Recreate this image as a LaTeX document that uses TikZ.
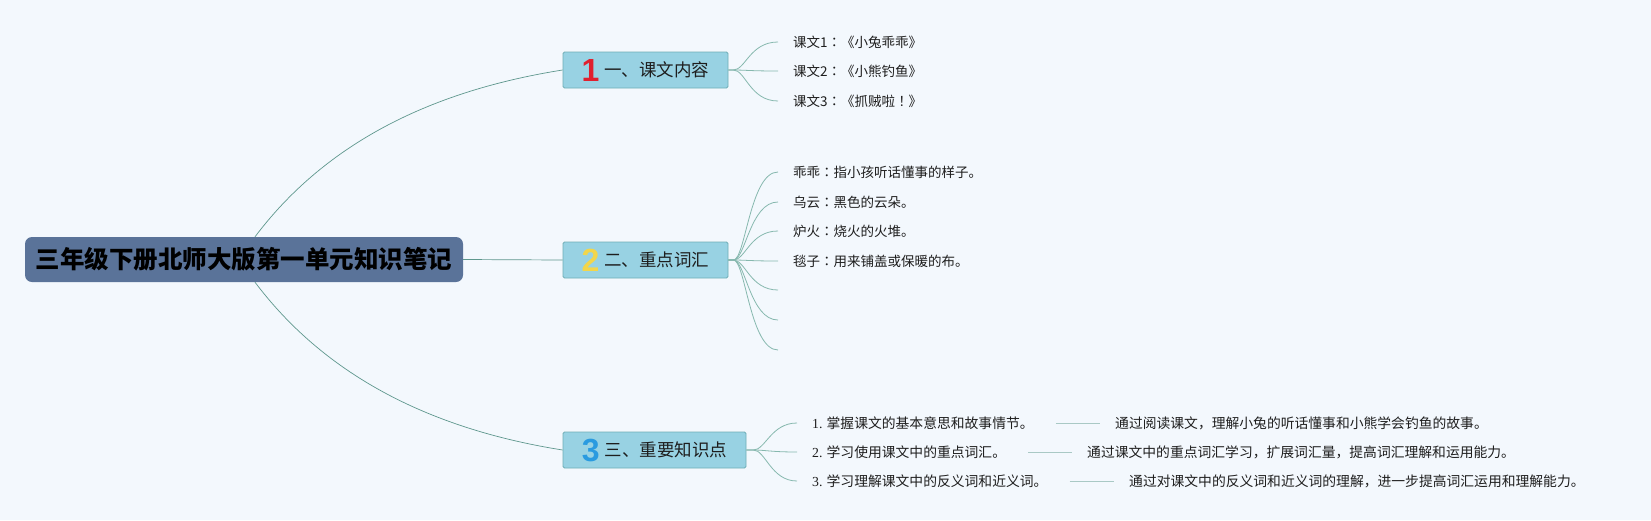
\documentclass[tikz,border=0pt]{standalone}
\usepackage{fontspec}
\setmainfont{Noto Sans CJK SC}
\newfontfamily\numfont{Liberation Sans}
\newfontfamily\sernum{Liberation Serif}
\newfontfamily\jpfont{Noto Sans CJK JP}
\newcommand{\zc}{{\jpfont ：}}
\usetikzlibrary{calc}
\definecolor{bg}{HTML}{F3F8FD}
\definecolor{rootfill}{HTML}{5A7399}
\definecolor{topicfill}{HTML}{98D2E3}
\definecolor{topicdraw}{HTML}{6FAEB6}
\definecolor{mainline}{HTML}{5E978D}
\definecolor{kidline}{HTML}{86B8AE}
\definecolor{detline}{HTML}{A9C9C5}
\definecolor{txt}{HTML}{1E1E1E}
\definecolor{numred}{HTML}{E0202E}
\definecolor{numyellow}{HTML}{F2D64B}
\definecolor{numblue}{HTML}{2A9BE0}
\newcommand{\bignum}[2]{\raisebox{-4.5pt}{\numfont\bfseries\fontsize{32pt}{32pt}\selectfont\textcolor{#1}{#2}}}
\begin{document}
\begin{tikzpicture}[x=1pt,y=-1pt,
  rootbox/.style={fill=rootfill, rounded corners=7pt, minimum width=438pt, minimum height=45pt, inner sep=0pt,
     font=\fontsize{24.5pt}{30pt}\selectfont\bfseries, text=black},
  topic/.style={fill=topicfill, draw=topicdraw, line width=0.8pt, rounded corners=1.5pt, minimum height=36pt, inner sep=0pt,
     font=\fontsize{17.5pt}{20pt}\selectfont, text=txt},
  kid/.style={anchor=west, inner xsep=15pt, inner ysep=2pt, font=\fontsize{13.5pt}{16pt}\selectfont, text=txt},
  item/.style={anchor=west, inner xsep=15pt, inner ysep=2pt, font=\fontsize{13.8pt}{16pt}\selectfont, text=txt},
  detail/.style={anchor=west, inner xsep=15pt, inner ysep=2pt, font=\fontsize{13.8pt}{16pt}\selectfont, text=txt},
  mainconn/.style={draw=mainline, line width=0.7pt},
  kidconn/.style={draw=kidline, line width=0.8pt},
  detconn/.style={draw=detline, line width=1pt, shorten <=7pt}
]
\path[use as bounding box, fill=bg] (0,0) rectangle (1651,520);

\node[rootbox] (root) at (244,259.5) {三年级下册北师大版第一单元知识笔记};

\node[topic, minimum width=165pt] (t1) at (645.5,70) {\bignum{numred}{1}\hspace{5pt}一、课文内容};
\node[topic, minimum width=165pt] (t2) at (645.5,260) {\bignum{numyellow}{2}\hspace{5pt}二、重点词汇};
\node[topic, minimum width=183pt] (t3) at (654.5,450) {\bignum{numblue}{3}\hspace{5pt}三、重要知识点};

\draw[mainconn] ($(root.north)+(11,0)$) .. controls +(67,-89) and +(-139,22) .. (t1.west);
\draw[mainconn] (root.east) -- (t2.west);
\draw[mainconn] ($(root.south)+(11,0)$) .. controls +(67,89) and +(-139,-22) .. (t3.west);

\node[kid] (k11) at (778,42) {课文1\zc《小兔乖乖》};
\node[kid] (k12) at (778,71) {课文2\zc《小熊钓鱼》};
\node[kid] (k13) at (778,101) {课文3\zc《抓贼啦{\jpfont ！}》};

\node[kid] (k21) at (778,172) {乖乖\zc 指小孩听话懂事的样子。};
\node[kid] (k22) at (778,202) {乌云\zc 黑色的云朵。};
\node[kid] (k23) at (778,231) {炉火\zc 烧火的火堆。};
\node[kid] (k24) at (778,261) {毯子\zc 用来铺盖或保暖的布。};
\coordinate (e25) at (778,290);
\coordinate (e26) at (778,320);
\coordinate (e27) at (778,350);

\node[item] (k31) at (797,423) {{\sernum 1.} 掌握课文的基本意思和故事情节。};
\node[item] (k32) at (797,452) {{\sernum 2.} 学习使用课文中的重点词汇。};
\node[item] (k33) at (797,481) {{\sernum 3.} 学习理解课文中的反义词和近义词。};

\node[detail] (d31) at (1100,423) {通过阅读课文，理解小兔的听话懂事和小熊学会钓鱼的故事。};
\node[detail] (d32) at (1072,452) {通过课文中的重点词汇学习，扩展词汇量，提高词汇理解和运用能力。};
\node[detail] (d33) at (1114,481) {通过对课文中的反义词和近义词的理解，进一步提高词汇运用和理解能力。};

\foreach \k in {k11,k12,k13}
  \draw[kidconn] (t1.east) -- ++(5,0) .. controls +(12,0) and +(-28,0) .. (\k.west);
\foreach \k in {k21,k22,k23,k24}
  \draw[kidconn] (t2.east) -- ++(5,0) .. controls +(12,0) and +(-28,0) .. (\k.west);
\foreach \k in {e25,e26,e27}
  \draw[kidconn] (t2.east) -- ++(5,0) .. controls +(12,0) and +(-28,0) .. (\k);
\foreach \k in {k31,k32,k33}
  \draw[kidconn] (t3.east) -- ++(7,0) .. controls +(12,0) and +(-26,0) .. (\k.west);

\draw[detconn] (k31.east) -- (d31.west);
\draw[detconn] (k32.east) -- (d32.west);
\draw[detconn] (k33.east) -- (d33.west);
\end{tikzpicture}
\end{document}
